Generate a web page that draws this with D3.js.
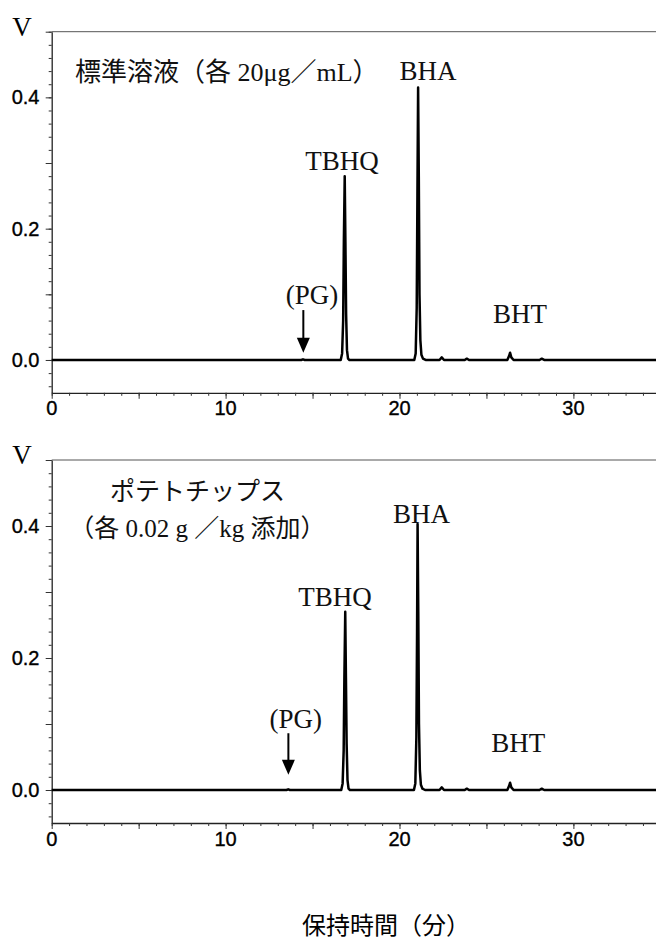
<!DOCTYPE html>
<html><head><meta charset="utf-8">
<script src="https://cdn.jsdelivr.net/npm/d3@7"></script>
<style>body{margin:0;background:#fff}svg{display:block}</style>
</head><body><svg id="c" width="656" height="938"></svg>
<script>
// ---- data (retention time in min, signal in V) ----
const timeStd = [0, 14.35, 14.45, 14.55, 16.62, 16.70, 16.76, 16.80, 16.85, 16.89, 16.93, 16.98, 17.04, 17.12,
  20.85, 20.93, 20.99, 21.03, 21.07, 21.11, 21.15, 21.20, 21.26, 21.35, 21.50,
  22.30, 22.43, 22.56, 23.75, 23.87, 24.00, 26.20, 26.30, 26.36, 26.43, 26.56, 28.05, 28.18, 28.32, 35];
const voltStd = [0, 0, 0.001, 0, 0, 0.01, 0.06, 0.18, 0.28, 0.18, 0.07, 0.015, 0.002, 0,
  0, 0.01, 0.08, 0.25, 0.415, 0.28, 0.10, 0.03, 0.008, 0.002, 0,
  0, 0.004, 0, 0, 0.002, 0, 0, 0.006, 0.011, 0.004, 0, 0, 0.002, 0, 0];
const timeChips = [0, 13.5, 13.6, 13.7, 16.65, 16.73, 16.79, 16.83, 16.88, 16.92, 16.96, 17.01, 17.07, 17.15,
  20.83, 20.91, 20.97, 21.01, 21.04, 21.08, 21.12, 21.17, 21.23, 21.32, 21.47,
  22.30, 22.43, 22.56, 23.75, 23.87, 24.00, 26.20, 26.30, 26.36, 26.43, 26.56, 28.05, 28.18, 28.32, 35];
const voltChips = [0, 0, 0.001, 0, 0, 0.01, 0.06, 0.17, 0.27, 0.17, 0.07, 0.015, 0.002, 0,
  0, 0.01, 0.08, 0.24, 0.403, 0.27, 0.10, 0.03, 0.008, 0.002, 0,
  0, 0.004, 0, 0, 0.002, 0, 0, 0.006, 0.011, 0.004, 0, 0, 0.002, 0, 0];
const xTickLabels = [0, 10, 20, 30];
const yTickLabels = [0.0, 0.2, 0.4];
const peakNames = ["TBHQ", "BHA", "BHT", "(PG)"];
const titleStd = "標準溶液（各 20μg／mL）";
const titleChips = ["ポテトチップス", "（各 0.02 g ／kg 添加）"];
const xTitle = "保持時間（分）";
const yUnit = "V";

// ---- layout ----
const W = 656;
const x = d3.scaleLinear([0, 35], [51.7, 51.7 + 35 * 17.39]);
const svg = d3.select("#c");
const SERIF = "'Liberation Serif','Noto Sans CJK JP',serif";
const SANS = "'Liberation Sans',Arial,sans-serif";

function panel(top, bottom, times, volts, ann) {
  const y = d3.scaleLinear([-0.05, 0.5], [bottom, top]);
  const g = svg.append("g");
  // top frame
  g.append("line").attr("x1", x(0)).attr("x2", W).attr("y1", top).attr("y2", top)
    .attr("stroke", "#555").attr("stroke-width", 1);
  // x axis: minor and major ticks
  g.append("g").attr("transform", `translate(0,${bottom})`)
    .call(d3.axisBottom(x).tickValues(d3.range(0, 36, 1)).tickSize(3).tickSizeOuter(0).tickFormat(""));
  g.append("g").attr("transform", `translate(0,${bottom})`)
    .call(d3.axisBottom(x).tickValues(d3.range(0, 36, 5)).tickSize(6).tickSizeOuter(0).tickFormat(""))
    .select(".domain").remove();
  // y axis
  g.append("g").attr("transform", `translate(${x(0)},0)`)
    .call(d3.axisLeft(y).tickValues(d3.range(-0.04, 0.51, 0.02)).tickSize(3).tickSizeOuter(0).tickFormat(""));
  g.append("g").attr("transform", `translate(${x(0)},0)`)
    .call(d3.axisLeft(y).tickValues(d3.range(0, 0.51, 0.1)).tickSize(6).tickSizeOuter(0).tickFormat(""))
    .select(".domain").remove();
  g.selectAll(".domain").attr("stroke", "#222").attr("stroke-width", 1.3);
  g.selectAll(".tick line").attr("stroke", "#333").attr("stroke-width", 1);
  // tick labels
  g.selectAll(".xl").data(xTickLabels).join("text")
    .attr("x", d => x(d)).attr("y", bottom + 15.5).attr("dy", "0.35em")
    .attr("text-anchor", "middle").attr("font-family", SANS).attr("font-size", 20)
    .attr("stroke", "#000").attr("stroke-width", 0.35)
    .text(d => d);
  g.selectAll(".yl").data(yTickLabels).join("text")
    .attr("x", 39.5).attr("y", d => y(d)).attr("dy", "0.35em")
    .attr("text-anchor", "end").attr("font-family", SANS).attr("font-size", 20)
    .attr("stroke", "#000").attr("stroke-width", 0.35)
    .text(d => d3.format(".1f")(d));
  // unit
  g.append("text").attr("x", 22).attr("y", top + 4).attr("text-anchor", "middle")
    .attr("font-family", SERIF).attr("font-size", 27).text(yUnit);
  // trace
  g.append("path").datum(d3.zip(times, volts))
    .attr("d", d3.line().x(d => x(d[0])).y(d => y(d[1])))
    .attr("fill", "none").attr("stroke", "#000").attr("stroke-width", 2.5)
    .attr("stroke-linejoin", "round");
  // peak labels
  ann.labels.forEach(l => {
    g.append("text").attr("x", x(l.t)).attr("y", y(l.v)).attr("text-anchor", l.anchor || "middle")
      .attr("font-family", SERIF).attr("font-size", l.size || 27).attr("fill", "#111").text(l.text);
  });
  // arrow
  const a = ann.arrow;
  const ax = x(a.t), ay1 = y(a.v1), ay2 = y(a.v2);
  g.append("line").attr("x1", ax).attr("x2", ax).attr("y1", ay1).attr("y2", ay2 - 12)
    .attr("stroke", "#000").attr("stroke-width", 2);
  g.append("path").attr("d", `M${ax - 6.5},${ay2 - 15}L${ax + 6.5},${ay2 - 15}L${ax},${ay2}Z`).attr("fill", "#000");
}

panel(31.7, 392.8, timeStd, voltStd, {
  labels: [
    {text: titleStd, t: 1.34, v: 0.425, anchor: "start", size: 26},
    {text: peakNames[1], t: 21.64, v: 0.427},
    {text: peakNames[0], t: 16.69, v: 0.290},
    {text: peakNames[3], t: 14.97, v: 0.085},
    {text: peakNames[2], t: 26.93, v: 0.057}
  ],
  arrow: {t: 14.47, v1: 0.076, v2: 0.011}
});
panel(460, 823, timeChips, voltChips, {
  labels: [
    {text: titleChips[0], t: 8.38, v: 0.44, size: 25},
    {text: titleChips[1], t: 8.38, v: 0.384, size: 25},
    {text: peakNames[1], t: 21.27, v: 0.405},
    {text: peakNames[0], t: 16.29, v: 0.279},
    {text: peakNames[3], t: 14.04, v: 0.094},
    {text: peakNames[2], t: 26.83, v: 0.058}
  ],
  arrow: {t: 13.61, v1: 0.086, v2: 0.023}
});

svg.append("text").attr("x", 386).attr("y", 926).attr("dy", "0.35em")
  .attr("text-anchor", "middle").attr("font-family", SERIF).attr("font-size", 24).text(xTitle);
</script></body></html>
